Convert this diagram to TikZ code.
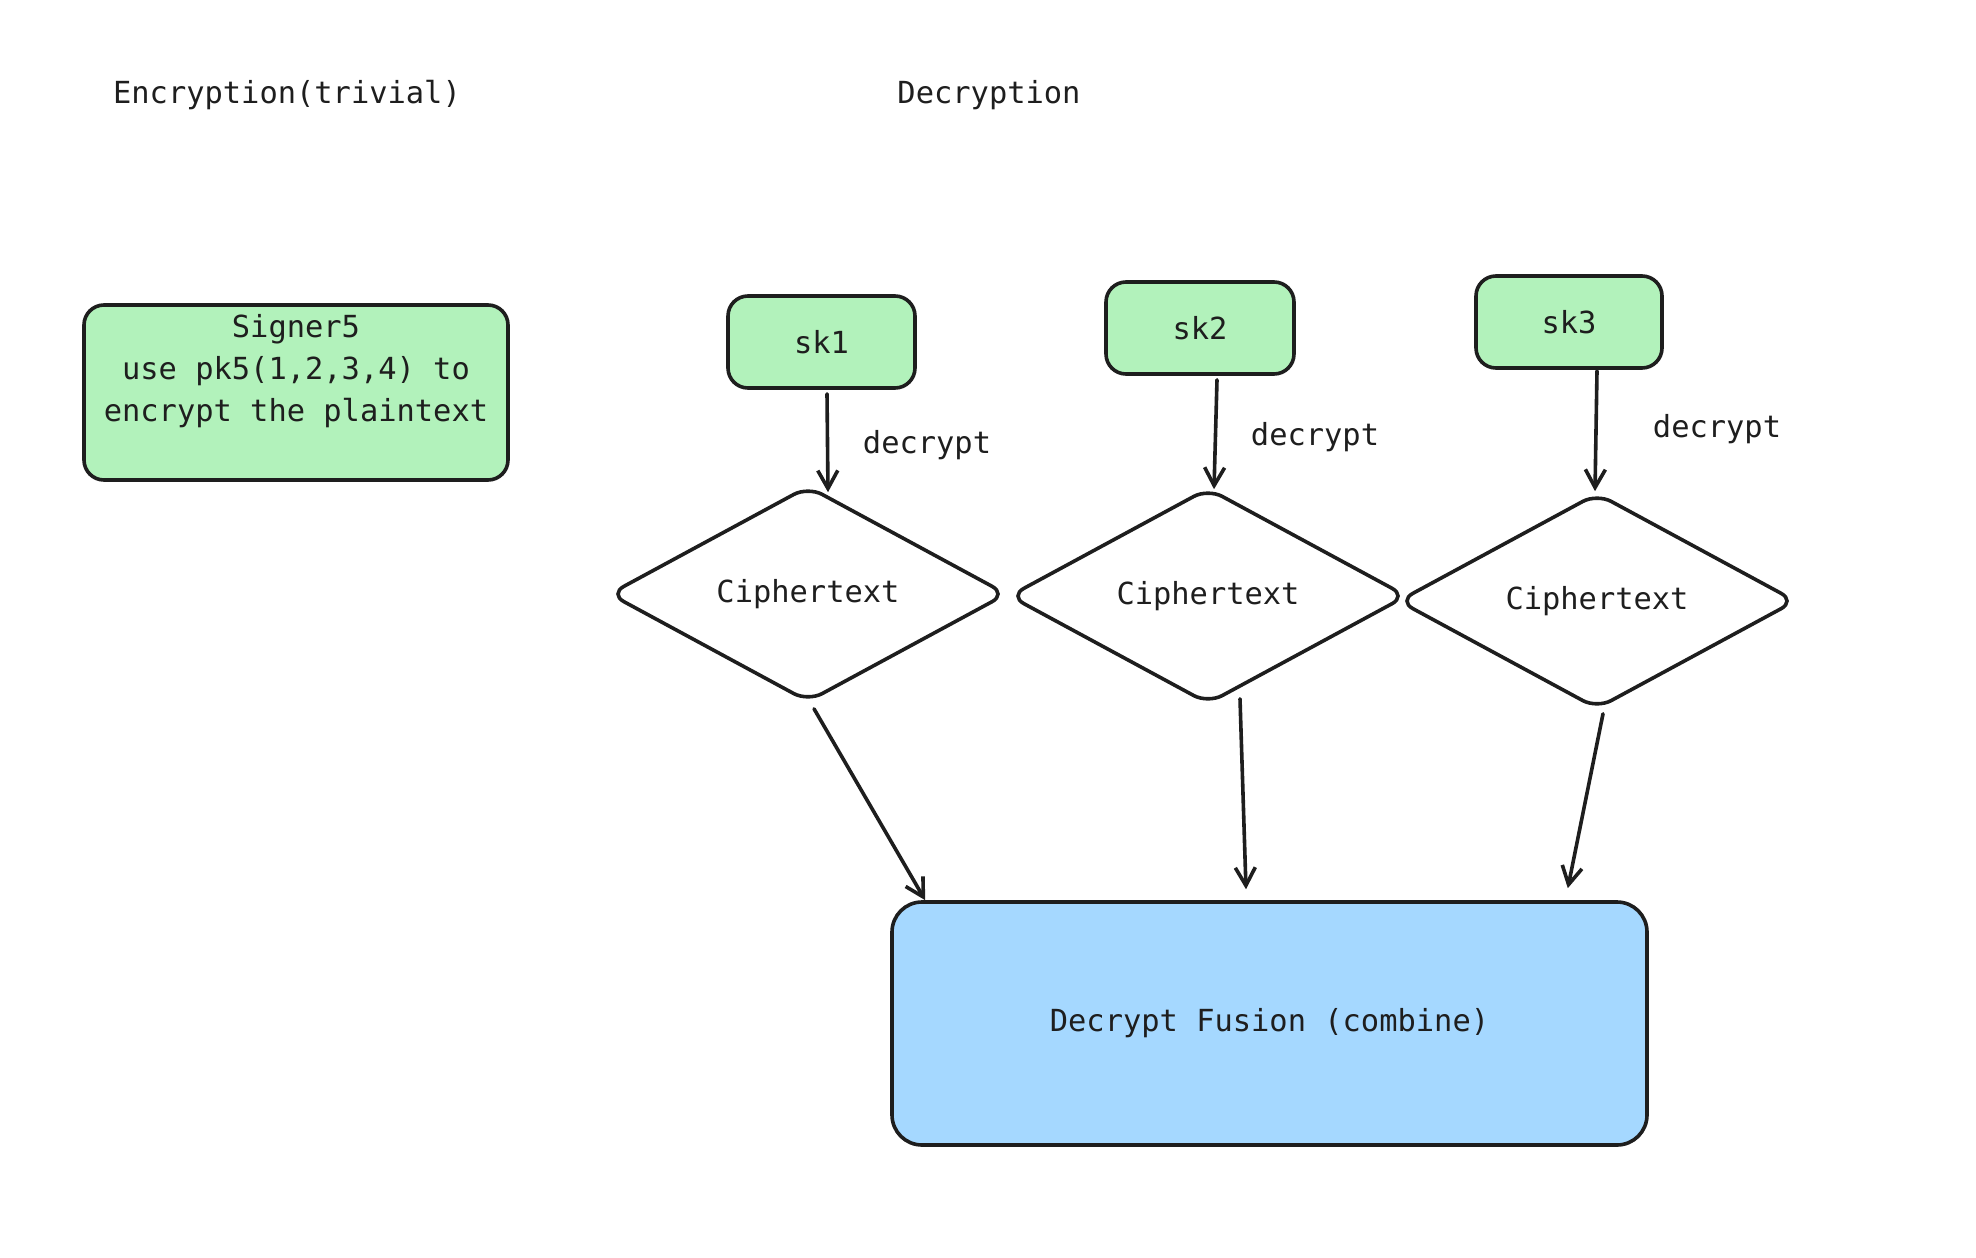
\documentclass[tikz,border=0pt]{standalone}
\usepackage{fontspec}
\setmainfont{DejaVu Sans Mono}
\usetikzlibrary{arrows.meta,shapes.geometric,calc}
\definecolor{boxgreen}{HTML}{B2F2BB}
\definecolor{boxblue}{HTML}{A5D8FF}
\definecolor{ink}{HTML}{1E1E1E}
\tikzset{
  every node/.style={font=\fontsize{15.2pt}{21pt}\selectfont, text=ink},
  greenbox/.style={draw=ink, line width=1.8pt, fill=boxgreen, rounded corners=10pt, inner sep=0pt},
  bluebox/.style={draw=ink, line width=1.8pt, fill=boxblue, rounded corners=15pt, inner sep=0pt},
  cipher/.style={draw=ink, line width=1.8pt, fill=white, diamond, rounded corners=8pt, inner sep=0pt,
    minimum width=199pt, minimum height=108pt},
  arr/.style={draw=ink, line width=1.8pt, line cap=round, -{Straight Barb[length=9pt,width=10pt,line width=1.8pt]}},
  plain/.style={inner sep=0pt}
}
\begin{document}
\begin{tikzpicture}[x=0.5pt,y=-0.5pt]
\fill[white] (0,0) rectangle (1976,1258);
\useasboundingbox (0,0) rectangle (1976,1258);

% titles
\node[plain] (enctitle) at (287,95) {Encryption(trivial)};
\node[plain] (dectitle) at (989,95) {Decryption};

% signer box
\node[greenbox, minimum width=212pt, minimum height=87.5pt] (signer) at (296,392.5) {};
\node[plain, align=center] (signertext) at (296,371) {Signer5\\use pk5(1,2,3,4) to\\encrypt the plaintext};

% keys
\node[greenbox, minimum width=93.5pt, minimum height=46pt] (sk1) at (821.5,342) {sk1};
\node[greenbox, minimum width=94pt, minimum height=46pt] (sk2) at (1200,328) {sk2};
\node[greenbox, minimum width=93pt, minimum height=46pt] (sk3) at (1569,322) {sk3};

% ciphertexts
\node[cipher] (d1) at (808,594) {Ciphertext};
\node[cipher] (d2) at (1208,596) {Ciphertext};
\node[cipher] (d3) at (1597,601) {Ciphertext};

% fusion
\node[bluebox, minimum width=377.5pt, minimum height=121.5pt] (fusion) at (1269.5,1023.5) {Decrypt Fusion (combine)};

% decrypt labels
\node[plain] (lab1) at (927,445) {decrypt};
\node[plain] (lab2) at (1315,437) {decrypt};
\node[plain] (lab3) at (1717,429) {decrypt};

% arrows key -> ciphertext
\draw[arr] ($(sk1.south)+(5.5,4)$) -- ($(d1.north)+(20,8)$);
\draw[arr] ($(sk2.south)+(17,4)$) -- ($(d2.north)+(6,3)$);
\draw[arr] ($(sk3.south)+(28,1)$) -- ($(d3.north)+(-2,0)$);

% arrows ciphertext -> fusion
\draw[arr] ($(d1.south)+(6,5)$) -- ($(fusion.north west)+(35,0)$);
\draw[arr] ($(d2.south)+(32,-7)$) -- ($(fusion.north)+(-23.5,-11)$);
\draw[arr] ($(d3.south)+(6,3)$) -- ($(fusion.north east)+(-81,-12)$);
\end{tikzpicture}
\end{document}
